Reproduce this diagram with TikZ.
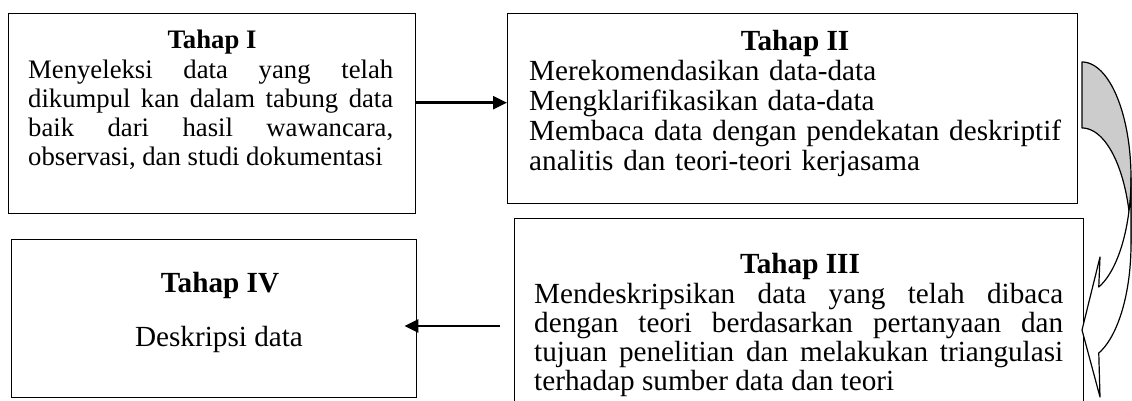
\documentclass[tikz,border=0pt]{standalone}
\usepackage{fontspec}
\setmainfont{Liberation Serif}
\usetikzlibrary{arrows.meta,positioning}
\tikzset{%
   frame/.style={draw, line width=1.4pt, inner sep=0pt, anchor=north west},
   judul/.style={font=\fontsize{#1}{#1}\selectfont\bfseries, inner sep=0pt, anchor=base},
   isi/.style 2 args={font=\fontsize{#1}{#2}\selectfont, inner sep=0pt, anchor=base west},
   panah/.style={line width=2.4pt, -{Triangle[length=14pt,width=13pt]}}
}
\begin{document}
\begin{tikzpicture}[x=1pt,y=-1pt]%
      \useasboundingbox (0,0) rectangle (1132,401);%
      \clip (0,0) rectangle (1132,401);%
      % ~ frames
      \node[frame, minimum width=407pt, minimum height=200pt] (tahapI) at (8,13) {};%
      \node[frame, minimum width=570pt, minimum height=190pt] (tahapII) at (507,13) {};%
      \node[frame, minimum width=569pt, minimum height=220pt] (tahapIII) at (514,218) {};%
      \node[frame, minimum width=405pt, minimum height=158pt] (tahapIV) at (11,239) {};%
      % ~ Tahap I
      \node[judul=26.7] (judulI) at (212,49) {Tahap I};%
      \node[isi={26.7}{28.7}, text width=365pt, align=justify] (isiI) at (28,79)
         {Menyeleksi data yang telah\linebreak dikumpul kan dalam tabung data\linebreak
          baik dari hasil wawancara,\linebreak observasi, dan studi dokumentasi};%
      % ~ Tahap II
      \node[judul=29.2] (judulII) at (795,51) {Tahap II};%
      \node[isi={29.2}{30}, text width=545pt, align=left] (isiII) at (529,81)
         {Merekomendasikan data-data\\ Mengklarifikasikan data-data\\
          Membaca data dengan pendekatan deskriptif\\ analitis dan teori-teori kerjasama};%
      % ~ Tahap III
      \node[judul=29.2] (judulIII) at (800,273) {Tahap III};%
      \node[isi={29.2}{29.3}, text width=529pt, align=justify] (isiIII) at (534,303)
         {Mendeskripsikan data yang telah dibaca\linebreak dengan teori berdasarkan pertanyaan dan\linebreak
          tujuan penelitian dan melakukan triangulasi\linebreak terhadap sumber data dan teori};%
      % ~ Tahap IV
      \node[judul=29.2] (judulIV) at (220,292) {Tahap IV};%
      \node[isi={29.2}{29.2}, anchor=base] (isiIV) at (219,346) {Deskripsi data};%
      % ~ arrows
      \draw[panah] ([yshift=11pt]tahapI.east) -- ([yshift=11pt]tahapI.east -| tahapII.west);%
      \coordinate (awalIII) at (500,326);%
      \draw[panah] (awalIII) -- ([xshift=-13pt]tahapIV.east |- awalIII);%
      % ~ curved arrow, back part
      \filldraw[fill=black!20, line width=1.2pt, line join=round]
         plot[domain=90:0, samples=40] ({1082+49*cos(\x)},{178-116*sin(\x)})
         -- plot[domain=0:90, samples=40] ({1082+49*cos(\x)},{244-116*sin(\x)}) -- cycle;%
      % ~ curved arrow, front part
      \filldraw[fill=white, line width=1.2pt, line join=round]
         plot[domain=0:-70, samples=40] ({1082+49*cos(\x)},{178-116*sin(\x)})
         -- (1100,257) -- (1082,330) -- (1100,397)
         -- plot[domain=-70:0, samples=40] ({1082+49*cos(\x)},{244-116*sin(\x)}) -- cycle;%
   \end{tikzpicture}
\end{document}
